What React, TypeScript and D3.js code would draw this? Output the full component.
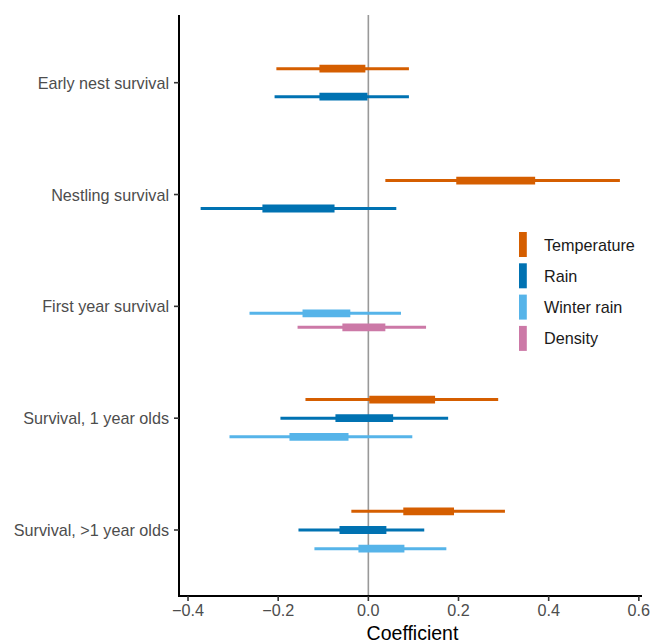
import React from "react";
import * as d3 from "d3";

const categories = [
  "Early nest survival",
  "Nestling survival",
  "First year survival",
  "Survival, 1 year olds",
  "Survival, >1 year olds",
];
const seriesNames = ["Temperature", "Rain", "Winter rain", "Density"];
const seriesColors = ["#D55E00", "#0072B2", "#56B4E9", "#CC79A7"];

// terms in each model (dodge slots), in order
const modelTerms = [
  ["Temperature", "Rain"],
  ["Temperature", "Rain"],
  ["Temperature", "Rain", "Winter rain", "Density"],
  ["Temperature", "Rain", "Winter rain"],
  ["Temperature", "Rain", "Winter rain"],
];

// [outerLow, innerLow, innerHigh, outerHigh] per category; null = not estimated
const temperature = [
  [-0.204, -0.1085, -0.0066, 0.09],
  [0.0377, 0.195, 0.37, 0.558],
  null,
  [-0.1395, 0.002, 0.148, 0.288],
  [-0.0377, 0.0775, 0.19, 0.303],
];
const rain = [
  [-0.208, -0.1085, -0.002, 0.09],
  [-0.372, -0.235, -0.075, 0.062],
  null,
  [-0.195, -0.073, 0.055, 0.177],
  [-0.155, -0.064, 0.04, 0.124],
];
const winterRain = [
  null,
  null,
  [-0.2636, -0.146, -0.04, 0.0724],
  [-0.308, -0.175, -0.044, 0.0975],
  [-0.1196, -0.022, 0.08, 0.173],
];
const density = [null, null, [-0.157, -0.0576, 0.0377, 0.128], null, null];

const seriesValues = [temperature, rain, winterRain, density];
const xTicks = [-0.4, -0.2, 0, 0.2, 0.4, 0.6];

export default function App() {
  const W = 651;
  const H = 644;
  const left = 179;
  const right = 642;
  const top = 15;
  const bottom = 596;

  const x = d3.scaleLinear().domain([-0.42, 0.607]).range([left, right]);
  const y = d3.scalePoint<string>().domain(categories).range([82.7, 530]);
  const unit = y.step();
  const dodgeW = 0.5 * unit;

  const marks: any[] = [];
  categories.forEach((cat, ci) => {
    const terms = modelTerms[ci];
    const n = terms.length;
    terms.forEach((term, ti) => {
      const si = seriesNames.indexOf(term);
      const v = seriesValues[si][ci];
      if (!v) return;
      const yy = (y(cat) as number) + (ti - (n - 1) / 2) * (dodgeW / n);
      marks.push({ key: cat + term, yy, v, color: seriesColors[si] });
    });
  });

  const font = "'Liberation Sans', Arial, Helvetica, sans-serif";
  const fmt = (d: number) => (d < 0 ? "\u2212" : "") + Math.abs(d).toFixed(1);
  const fs = 16.2;

  return (
    <svg
      width={W}
      height={H}
      style={{ position: "absolute", left: 0, top: 0, background: "#fff" }}
      fontFamily={font}
    >
      <rect x={0} y={0} width={W} height={H} fill="#fff" />
      {/* zero line */}
      <line x1={x(0)} x2={x(0)} y1={top} y2={bottom} stroke="#999999" strokeWidth={1.6} />
      {marks.map((m) => (
        <g key={m.key}>
          <line x1={x(m.v[0])} x2={x(m.v[3])} y1={m.yy} y2={m.yy} stroke={m.color} strokeWidth={3} />
          <line x1={x(m.v[1])} x2={x(m.v[2])} y1={m.yy} y2={m.yy} stroke={m.color} strokeWidth={7.8} />
        </g>
      ))}
      {/* axes */}
      <line x1={left} x2={left} y1={top} y2={bottom + 1} stroke="#000" strokeWidth={2} />
      <line x1={left - 1} x2={right} y1={bottom} y2={bottom} stroke="#000" strokeWidth={2} />
      {categories.map((c) => (
        <g key={c}>
          <line x1={left - 5} x2={left} y1={y(c)} y2={y(c)} stroke="#333" strokeWidth={1.6} />
          <text
            x={left - 10}
            y={(y(c) as number) + 6}
            textAnchor="end"
            fontSize={fs}
            fill="#4D4D4D"
          >
            {c}
          </text>
        </g>
      ))}
      {xTicks.map((t) => (
        <g key={t}>
          <line x1={x(t)} x2={x(t)} y1={bottom} y2={bottom + 5} stroke="#333" strokeWidth={1.6} />
          <text x={x(t)} y={bottom + 20} textAnchor="middle" fontSize={fs} fill="#4D4D4D">
            {fmt(t)}
          </text>
        </g>
      ))}
      <text x={(left + right) / 2 + 2} y={640} textAnchor="middle" fontSize={19.5} fill="#000">
        Coefficient
      </text>
      {/* legend */}
      {seriesNames.map((s, i) => (
        <g key={s} transform={`translate(0, ${232 + i * 31.3})`}>
          <rect x={519} y={0} width={7.8} height={25} fill={seriesColors[i]} />
          <text x={544} y={18.5} fontSize={fs} fill="#1A1A1A">
            {s}
          </text>
        </g>
      ))}
    </svg>
  );
}
